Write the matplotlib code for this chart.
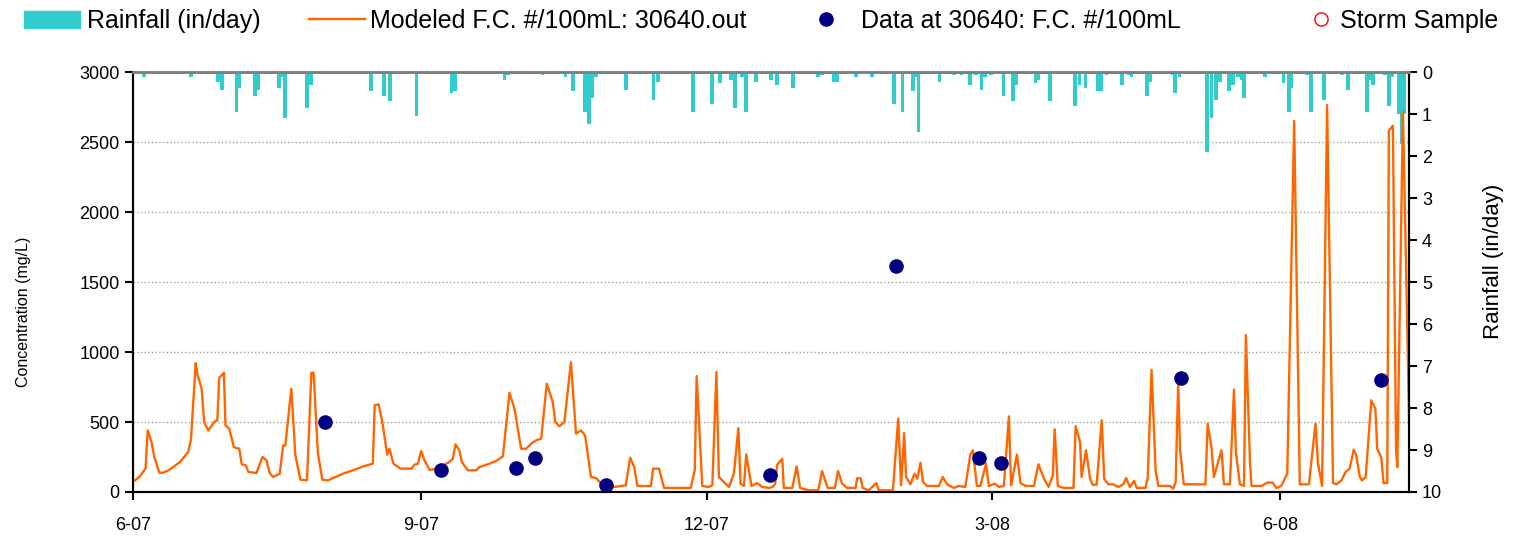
import pandas as pd
import matplotlib
matplotlib.use("Agg")
import matplotlib.pyplot as plt
import matplotlib.dates as mdates
from matplotlib.lines import Line2D
from matplotlib.patches import Patch

plt.rcParams['font.family'] = ['Liberation Sans', 'DejaVu Sans']

start = pd.Timestamp('2007-06-01')
end = pd.Timestamp('2008-07-12')

# modeled fecal coliform (days after 2007-06-01, #/100mL)
model_day = [
    -1, 0.6, 2.2, 4.0, 4.7, 5.9, 6.8, 8.4, 9.7, 11.3, 12.8, 15.0, 17.6, 18.5, 20.0, 20.5,
    21.9, 22.7, 24.0, 26.1, 26.9, 27.5, 29.0, 29.5, 30.7, 32.2, 33.0, 33.9, 34.7, 36.0,
    36.8, 39.4, 41.3, 42.6, 43.6, 44.7, 46.8, 47.9, 48.6, 50.5, 51.8, 53.4, 55.5, 56.9,
    57.6, 59.0, 60.4, 62.2, 64.0, 67.0, 70.2, 73.4, 76.5, 77.1, 78.4, 79.7, 81.1, 81.8,
    83.1, 85.3, 88.8, 89.8, 90.9, 91.9, 93.0, 94.6, 96.5, 98.8, 100.9, 102.0, 102.9,
    104.1, 104.9, 106.8, 109.5, 110.5, 113.2, 115.8, 118.0, 120.1, 121.7, 123.8, 125.4,
    127.0, 128.6, 130.2, 132.0, 133.9, 134.7, 136.0, 137.6, 139.7, 141.3, 142.9, 144.2,
    146.1, 147.7, 149.8, 152.0, 153.5, 157.2, 158.6, 159.9, 160.9, 165.2, 165.9, 167.8,
    169.4, 177.9, 179.2, 179.8, 181.6, 183.7, 184.8, 186.1, 186.9, 188.5, 190.1, 191.7,
    193.1, 193.8, 194.9, 195.6, 197.3, 199.1, 200.7, 202.9, 204.0, 204.8, 205.5, 207.1,
    207.6, 210.3, 211.7, 212.8, 215.6, 218.6, 219.8, 221.6, 223.9, 224.9, 226.2, 227.8,
    230.5, 231.0, 232.1, 232.8, 234.7, 237.1, 237.9, 242.4, 244.1, 245.0, 246.0, 246.6,
    248.0, 249.3, 250.2, 251.2, 252.0, 253.3, 257.1, 258.3, 259.7, 261.8, 263.4, 265.5,
    267.1, 267.9, 269.2, 270.3, 272.1, 273.0, 274.9, 276.2, 277.8, 279.4, 280.1, 282.0,
    283.1, 284.7, 287.4, 288.8, 290.6, 292.1, 293.4, 294.0, 295.0, 296.9, 300.0, 300.7,
    302.1, 302.6, 304.0, 305.3, 306.1, 307.4, 309.0, 309.8, 311.1, 312.7, 314.3, 315.9,
    316.8, 318.0, 319.3, 320.2, 323.0, 323.7, 324.9, 326.2, 327.1, 330.8, 331.8, 332.6,
    333.4, 334.0, 335.2, 342.1, 342.8, 344.0, 344.8, 347.2, 348.0, 349.9, 351.2, 351.8,
    353.1, 354.4, 355.0, 356.3, 356.8, 360.0, 361.8, 363.5, 364.7, 366.3, 368.2, 370.4,
    372.2, 375.1, 377.2, 378.0, 379.3, 380.9, 382.8, 383.9, 385.5, 386.8, 388.1, 389.4,
    390.2, 391.3, 392.0, 393.2, 395.0, 396.3, 396.9, 398.2, 398.9, 400.1, 400.6, 401.3,
    401.9, 402.9, 403.3, 405.1, 407.5,
]
model_fc = [
    64, 83, 112, 167, 440, 357, 250, 138, 138, 155, 178, 214, 286, 376, 921, 845,
    738, 500, 440, 505, 512, 814, 852, 476, 452, 321, 314, 309, 198, 190,
    143, 136, 250, 226, 136, 107, 131, 333, 333, 738, 262, 88, 83, 852,
    852, 274, 88, 83, 102, 131, 155, 183, 202, 619, 626, 476, 267, 309,
    202, 167, 167, 195, 202, 293, 226, 157, 165, 190, 214, 238, 340,
    298, 214, 155, 155, 178, 198, 221, 255, 709, 595, 309, 309,
    345, 369, 381, 773, 643, 500, 469, 500, 928, 417, 440, 405,
    107, 100, 48, 36, 36, 48, 245, 178, 43, 43, 167, 167,
    29, 29, 155, 828, 43, 36, 48, 857, 107, 71, 36, 131,
    457, 60, 43, 269, 43, 64, 36, 29, 36, 55, 195, 238,
    29, 29, 183, 29, 12, 12, 150, 29, 29, 150, 60, 29,
    29, 98, 98, 29, 12, 64, 12, 12, 524, 48, 421, 107,
    55, 131, 95, 209, 71, 43, 43, 107, 55, 29, 43, 36,
    267, 298, 43, 43, 202, 43, 60, 36, 43, 540, 48, 267,
    64, 43, 43, 198, 95, 36, 119, 448, 43, 29, 29, 469,
    357, 107, 298, 95, 52, 52, 512, 95, 55, 55, 36, 55,
    100, 36, 79, 29, 29, 107, 873, 155, 43, 43, 24, 71,
    778, 298, 55, 55, 488, 321, 107, 298, 55, 55, 731, 286,
    55, 43, 1121, 214, 43, 43, 67, 67, 29, 43, 131, 2650,
    55, 55, 488, 202, 43, 2764, 64, 55, 83, 143, 167, 302,
    262, 112, 83, 107, 655, 595, 309, 245, 64, 64, 2580, 2600,
    2617, 300, 178, 2717, 20,
]

# observed samples
obs_day = [61.1, 98.1, 122.3, 128.3, 151.0, 203.2, 243.3, 270.0, 277.0, 334.4, 398.1]
obs_fc = [500, 157, 171, 243, 50, 121, 1614, 243, 207, 814, 800]

# daily rainfall (days after 2007-06-01, in/day)
rain_day = [
    3.5, 7.6, 18.5, 27, 28.5, 33, 34, 39, 40, 44.6, 46.5, 47.5, 48.4, 55.4, 56.7, 66.5,
    76, 80, 82, 90.4, 101.6, 102.6, 105.4, 118.5, 119.7, 130.6, 138, 140.4, 144.3, 145.5,
    146.5, 147.8, 157.3, 161.8, 164.6, 166, 167.5, 174.5, 178.7, 184.7, 187.3, 189.5,
    190.8, 192, 194.3, 195.5, 197.5, 198.7, 201.5, 203.5, 205.4, 210.5, 215.6, 218.5,
    219.7, 223.5, 224.7, 226.8, 230.6, 235.7, 242.7, 243.6, 245.5, 248.7, 249.7, 250.6,
    255.4, 257.3, 261.8, 264.3, 266.9, 268.8, 270.7, 271.7, 273.6, 277.7, 280.6, 281.8,
    283.7, 287.9, 288.8, 292.4, 293.6, 300.6, 301.9, 303.8, 307.8, 308.9, 310.5, 315.6,
    317.8, 318.5, 323.5, 324.5, 331, 331.8, 332.5, 333.8, 342.7, 344, 345.5, 346.8,
    349.7, 351, 352.6, 353.8, 354.5, 355.5, 361, 367, 368.8, 369.5, 374.5, 375.8, 380,
    383, 385.7, 387.6, 392.5, 393.6, 394.6, 395.5, 398.5, 399.3, 400.6, 401.7, 403.8,
    404.8, 405.6,
]
rain_in = [
    0.11, 0.03, 0.12, 0.24, 0.44, 0.95, 0.38, 0.57, 0.43, 0.05, 0.38, 0.12, 1.1, 0.86, 0.31, 0.03,
    0.45, 0.57, 0.69, 1.05, 0.5, 0.45, 0.05, 0.19, 0.07, 0.07, 0.12, 0.45, 0.95, 1.24,
    0.62, 0.12, 0.43, 0.04, 0.04, 0.67, 0.24, 0.04, 0.95, 0.76, 0.26, 0.04,
    0.19, 0.86, 0.12, 0.95, 0.04, 0.24, 0.04, 0.19, 0.31, 0.38, 0.03, 0.12,
    0.07, 0.24, 0.24, 0.04, 0.12, 0.12, 0.76, 0.04, 0.95, 0.45, 0.12, 1.43,
    0.04, 0.24, 0.07, 0.07, 0.31, 0.07, 0.43, 0.12, 0.07, 0.57, 0.69, 0.31,
    0.03, 0.26, 0.19, 0.69, 0.04, 0.81, 0.31, 0.38, 0.45, 0.45, 0.07, 0.31,
    0.07, 0.12, 0.57, 0.24, 0.04, 0.07, 0.5, 0.12, 1.9, 1.1, 0.67, 0.24,
    0.45, 0.31, 0.12, 0.19, 0.62, 0.04, 0.12, 0.26, 0.95, 0.38, 0.07, 0.95, 0.67,
    0.03, 0.07, 0.43, 0.04, 0.95, 0.19, 0.31, 0.04, 0.07, 0.81, 0.12, 1.0,
    1.71, 1.0,
]


def to_dates(days):
    return start + pd.to_timedelta(days, unit='D')


fig = plt.figure(figsize=(15.13, 5.39), dpi=100)
ax = fig.add_axes([0.0879, 0.0872, 0.8433, 0.7792])
ax2 = ax.twinx()

# rain bars hang from the top
ax2.bar(to_dates(rain_day), rain_in, width=1.2, color='#33CCCC', align='center')
ax2.set_ylim(10, 0)
ax2.set_yticks(range(0, 11))
ax2.set_ylabel('Rainfall (in/day)', fontsize=16)
ax2.yaxis.set_label_coords(1.058, 0.548)

ax.set_zorder(ax2.get_zorder() + 1)
ax.patch.set_visible(False)

ax.plot(to_dates(model_day), model_fc, color='#FF6600', lw=1.7)
ax.plot(to_dates(obs_day), obs_fc, 'o', color='#000080', ms=9.5, ls='none', clip_on=False)

ax.set_ylim(0, 3000)
ax.set_yticks(range(0, 3001, 500))
ax.set_xlim(start, end)
ax.xaxis.set_major_locator(mdates.MonthLocator(bymonth=[3, 6, 9, 12]))
ax.xaxis.set_major_formatter(mdates.DateFormatter('%-m-%y'))
ax.set_ylabel('Concentration (mg/L)', fontsize=11.5)
ax.yaxis.set_label_coords(-0.080, 0.4286)
ax.grid(axis='y', color='#A0A0A0', ls=':', lw=1)

for a in (ax, ax2):
    a.tick_params(labelsize=13, width=1.5, length=6, direction='out')
    a.spines['left'].set_linewidth(1.5)
    a.spines['right'].set_linewidth(1.5)
    a.spines['bottom'].set_linewidth(1.5)
    a.spines['top'].set_color('#808080')
    a.spines['top'].set_linewidth(2)
ax.tick_params(axis='x', pad=12)

# legend across the top, one entry at a time
entries = [
    (Patch(color='#33CCCC'), 'Rainfall (in/day)', 0.0159, 2.24, 0.28),
    (Line2D([], [], color='#FF6600', lw=1.7), 'Modeled F.C. #/100mL: 30640.out', 0.2042, 2.24, 0.2),
    (Line2D([], [], marker='o', color='#000080', ms=9.5, ls='none'),
     'Data at 30640: F.C. #/100mL', 0.5274, 2.24, 0.28),
    (Line2D([], [], marker='o', mfc='none', mec='red', ms=9.5, ls='none'),
     'Storm Sample', 0.8632, 1.2, 0.16),
]
for handle, label, x0, hlen, hpad in entries:
    fig.legend([handle], [label], loc='center left', bbox_to_anchor=(x0, 0.961),
               frameon=False, fontsize=18, handlelength=hlen, handleheight=0.68,
               handletextpad=hpad, borderaxespad=0, borderpad=0)

fig.savefig('out.png', dpi=100)
